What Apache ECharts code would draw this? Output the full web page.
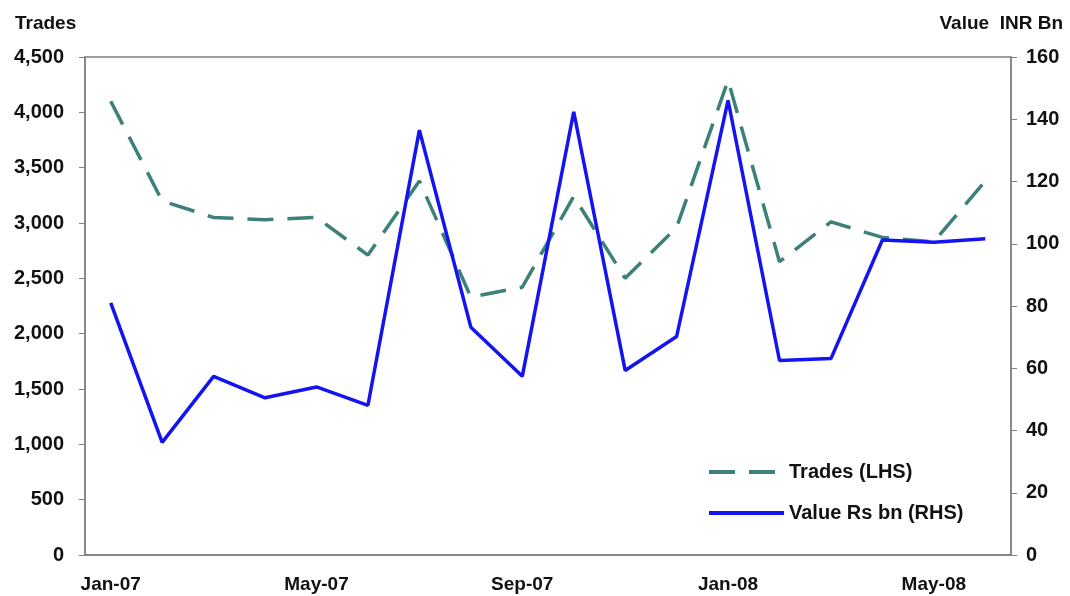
<!DOCTYPE html>
<html>
<head>
<meta charset="utf-8">
<script src="https://cdn.jsdelivr.net/npm/echarts@6/dist/echarts.min.js"></script>
<style>
  html, body { margin: 0; padding: 0; background: #fff; }
  #chart { width: 1070px; height: 596px; }
</style>
</head>
<body>
<div id="chart"></div>
<script>
// months on the x axis
var months = ['Jan-07', 'Feb-07', 'Mar-07', 'Apr-07', 'May-07', 'Jun-07', 'Jul-07', 'Aug-07', 'Sep-07',
  'Oct-07', 'Nov-07', 'Dec-07', 'Jan-08', 'Feb-08', 'Mar-08', 'Apr-08', 'May-08', 'Jun-08'];
// number of trades (left axis)
var trades = [4100, 3200, 3050, 3030, 3050, 2710, 3380, 2330, 2420, 3240, 2500, 2960, 4290, 2650, 3010, 2870, 2830, 3380];
// traded value, Rs bn (right axis)
var values = [81, 36.2, 57.4, 50.5, 54, 48.1, 136.5, 73.2, 57.4, 142.4, 59.3, 70.2, 146.1, 62.5, 63.1, 101.2, 100.5, 101.6];

var font = 'Liberation Sans, Arial, sans-serif';
var axisGray = '#808080';
var teal = '#3d8078';
var blue = '#1414f0';

var myChart = echarts.init(document.getElementById('chart'));

var option = {
  animation: false,
  // axis titles
  title: [
    { text: 'Trades', left: 10, top: 9,
      textStyle: { fontFamily: font, fontSize: 19, fontWeight: 'bold', color: '#111' } },
    { text: 'Value  INR Bn', right: 2, top: 9,
      textStyle: { fontFamily: font, fontSize: 19, fontWeight: 'bold', color: '#111' } }
  ],
  legend: {
    orient: 'vertical',
    left: 707,
    top: 462,
    padding: 0,
    itemWidth: 75,
    itemHeight: 20,
    itemGap: 21,
    itemStyle: { opacity: 0 },
    data: [
      { name: 'Trades (LHS)', lineStyle: { color: teal, width: 4, type: [26, 14] } },
      { name: 'Value Rs bn (RHS)', lineStyle: { color: blue, width: 4, type: 'solid' } }
    ],
    textStyle: { fontFamily: font, fontSize: 20, fontWeight: 'bold', color: '#111' }
  },
  grid: {
    left: 85,
    right: 59,
    top: 57,
    bottom: 41,
    show: true,
    borderColor: axisGray,
    borderWidth: 1.5
  },
  xAxis: {
    type: 'category',
    data: months,
    boundaryGap: true,
    axisLine: { lineStyle: { color: axisGray, width: 1.5 } },
    axisTick: { interval: 3, length: 6, lineStyle: { color: axisGray } },
    axisLabel: {
      interval: 3, margin: 20,
      fontFamily: font, fontSize: 19, fontWeight: 'bold', color: '#111'
    },
    splitLine: { show: false }
  },
  yAxis: [
    {
      type: 'value',
      min: 0, max: 4500, interval: 500,
      position: 'left',
      axisLine: { show: true, lineStyle: { color: axisGray, width: 1.5 } },
      axisTick: { show: true, length: 6, lineStyle: { color: axisGray } },
      axisLabel: {
        margin: 21,
        fontFamily: font, fontSize: 20, fontWeight: 'bold', color: '#111',
        formatter: function (v) { return v.toLocaleString('en-US'); }
      },
      splitLine: { show: false }
    },
    {
      type: 'value',
      min: 0, max: 160, interval: 20,
      position: 'right',
      axisLine: { show: true, lineStyle: { color: axisGray, width: 1.5 } },
      axisTick: { show: true, length: 6, lineStyle: { color: axisGray } },
      axisLabel: {
        margin: 15,
        fontFamily: font, fontSize: 20, fontWeight: 'bold', color: '#111'
      },
      splitLine: { show: false }
    }
  ],
  series: [
    {
      name: 'Trades (LHS)',
      type: 'line',
      yAxisIndex: 0,
      data: trades,
      symbol: 'none',
      lineStyle: { color: teal, width: 3.5, type: [26, 14] },
      itemStyle: { color: teal },
      z: 2
    },
    {
      name: 'Value Rs bn (RHS)',
      type: 'line',
      yAxisIndex: 1,
      data: values,
      symbol: 'none',
      lineStyle: { color: blue, width: 3.5 },
      itemStyle: { color: blue },
      z: 3
    }
  ]
};

myChart.setOption(option);
window.addEventListener('resize', myChart.resize);
</script>
</body>
</html>
